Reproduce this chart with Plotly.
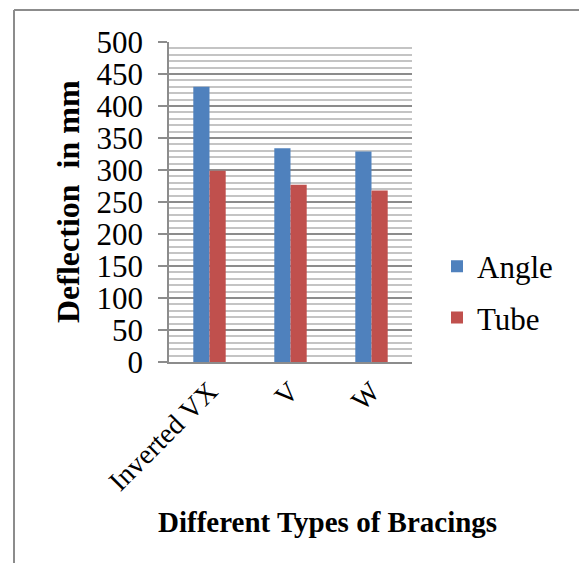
import plotly.graph_objects as go

categories = ["Inverted VX", "V", "W"]
angle_vals = [430, 334, 329]
tube_vals = [299, 277, 268]
series_names = ["Angle", "Tube"]
series_colors = ["#4F81BD", "#C0504D"]
y_title = "Deflection&nbsp; in mm"
x_title = "Different Types of Bracings"

W, H = 579, 563
L, R, T, B = 169, 167, 42, 201
pw, ph = W - L - R, H - T - B

def px(x):
    return (x - L) / pw

def py(y):
    return (H - B - y) / ph

font_family = "Liberation Serif, Times New Roman, serif"

fig = go.Figure()
for name, vals, col in zip(series_names, [angle_vals, tube_vals], series_colors):
    fig.add_trace(go.Bar(x=categories, y=vals, name=name, marker_color=col,
                         marker_line_width=0, legendgroup=name))

fig.update_layout(
    width=W, height=H,
    margin=dict(l=L, r=R, t=T, b=B, pad=0, autoexpand=False),
    paper_bgcolor="white", plot_bgcolor="white",
    barmode="group", bargap=0.6, bargroupgap=0,
    font=dict(family=font_family, color="black", size=31),
    legend=dict(x=px(437), y=py(292), xanchor="left", yanchor="middle",
                font=dict(size=31, family=font_family), tracegroupgap=8,
                itemsizing="constant", bgcolor="rgba(0,0,0,0)"),
    showlegend=True,
)
fig.update_yaxes(range=[0, 500], dtick=50, tick0=0, automargin=False,
                 showgrid=True, gridcolor="#8C8C8C", gridwidth=1.5,
                 minor=dict(dtick=10, showgrid=True, gridcolor="#C4C4C4", gridwidth=1.5),
                 showline=True, linecolor="#8C8C8C", linewidth=1.5,
                 ticks="outside", ticklen=9, tickcolor="#8C8C8C", tickwidth=1.5,
                 ticklabelstandoff=9,
                 tickfont=dict(size=31, family=font_family), zeroline=False)
fig.update_xaxes(showline=True, linecolor="#8C8C8C", linewidth=1.5, automargin=False,
                 tickangle=-45, tickfont=dict(size=28, family=font_family),
                 ticks="", showgrid=False)

fig.add_annotation(text=f"<b>{y_title}</b>", textangle=-90, x=px(68), y=py(202),
                   xref="paper", yref="paper", xanchor="center", yanchor="middle",
                   showarrow=False, font=dict(size=32, family=font_family))
fig.add_annotation(text=f"<b>{x_title}</b>", x=px(327), y=py(522),
                   xref="paper", yref="paper", xanchor="center", yanchor="middle",
                   showarrow=False, font=dict(size=29, family=font_family))

# outer chart frame (left and top edges visible)
fig.add_shape(type="line", xref="paper", yref="paper", x0=px(14), x1=px(14),
              y0=py(10), y1=py(600), line=dict(color="#8C8C8C", width=2))
fig.add_shape(type="line", xref="paper", yref="paper", x0=px(14), x1=px(620),
              y0=py(10), y1=py(10), line=dict(color="#8C8C8C", width=2))

fig.write_html("out.html")
